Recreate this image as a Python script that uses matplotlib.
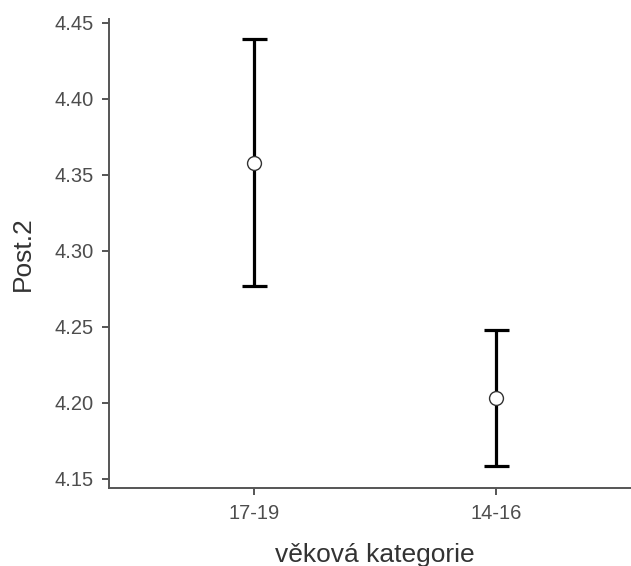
import numpy as np
import matplotlib
matplotlib.use("Agg")
import matplotlib.pyplot as plt

plt.rcParams['font.family'] = ['Liberation Sans', 'DejaVu Sans']

# group means with confidence intervals
groups = ["17-19", "14-16"]
means = [4.358, 4.203]
ci_low = [4.277, 4.1585]
ci_high = [4.4395, 4.2475]

x = np.arange(1, len(groups) + 1)
means = np.array(means)
err = [means - np.array(ci_low), np.array(ci_high) - means]

fig = plt.figure(figsize=(6.31, 5.66), dpi=100)
ax = fig.add_axes([109 / 631, 1 - 487.5 / 566, 2.2 * 242 / 631, (487.5 - 19) / 566])

ax.errorbar(x, means, yerr=err, fmt='none', ecolor='black', elinewidth=2.3,
            capsize=9, capthick=2.3, zorder=2)
ax.plot(x, means, 'o', ms=10, mfc='white', mec='#333333', mew=1.0, zorder=3)

ax.set_xlim(0.4, 2.6)
ax.set_ylim(4.1441, 4.4525)
ax.set_xticks(x)
ax.set_xticklabels(groups)
ax.set_yticks([4.15, 4.20, 4.25, 4.30, 4.35, 4.40, 4.45])
ax.set_yticklabels(["%.2f" % v for v in ax.get_yticks()])

for side in ['top', 'right']:
    ax.spines[side].set_visible(False)
for side in ['left', 'bottom']:
    ax.spines[side].set_color('#555555')
    ax.spines[side].set_linewidth(1.4)

ax.tick_params(colors='#555555', labelcolor='#4d4d4d', labelsize=14.5,
               width=1.4, length=5)
ax.tick_params(axis='x', pad=7)
ax.tick_params(axis='y', pad=6)

ax.set_xlabel("věková kategorie", fontsize=19, color='#333333', labelpad=14)
ax.set_ylabel("Post.2", fontsize=19, color='#333333', labelpad=14)

fig.savefig("out.png", dpi=100)
